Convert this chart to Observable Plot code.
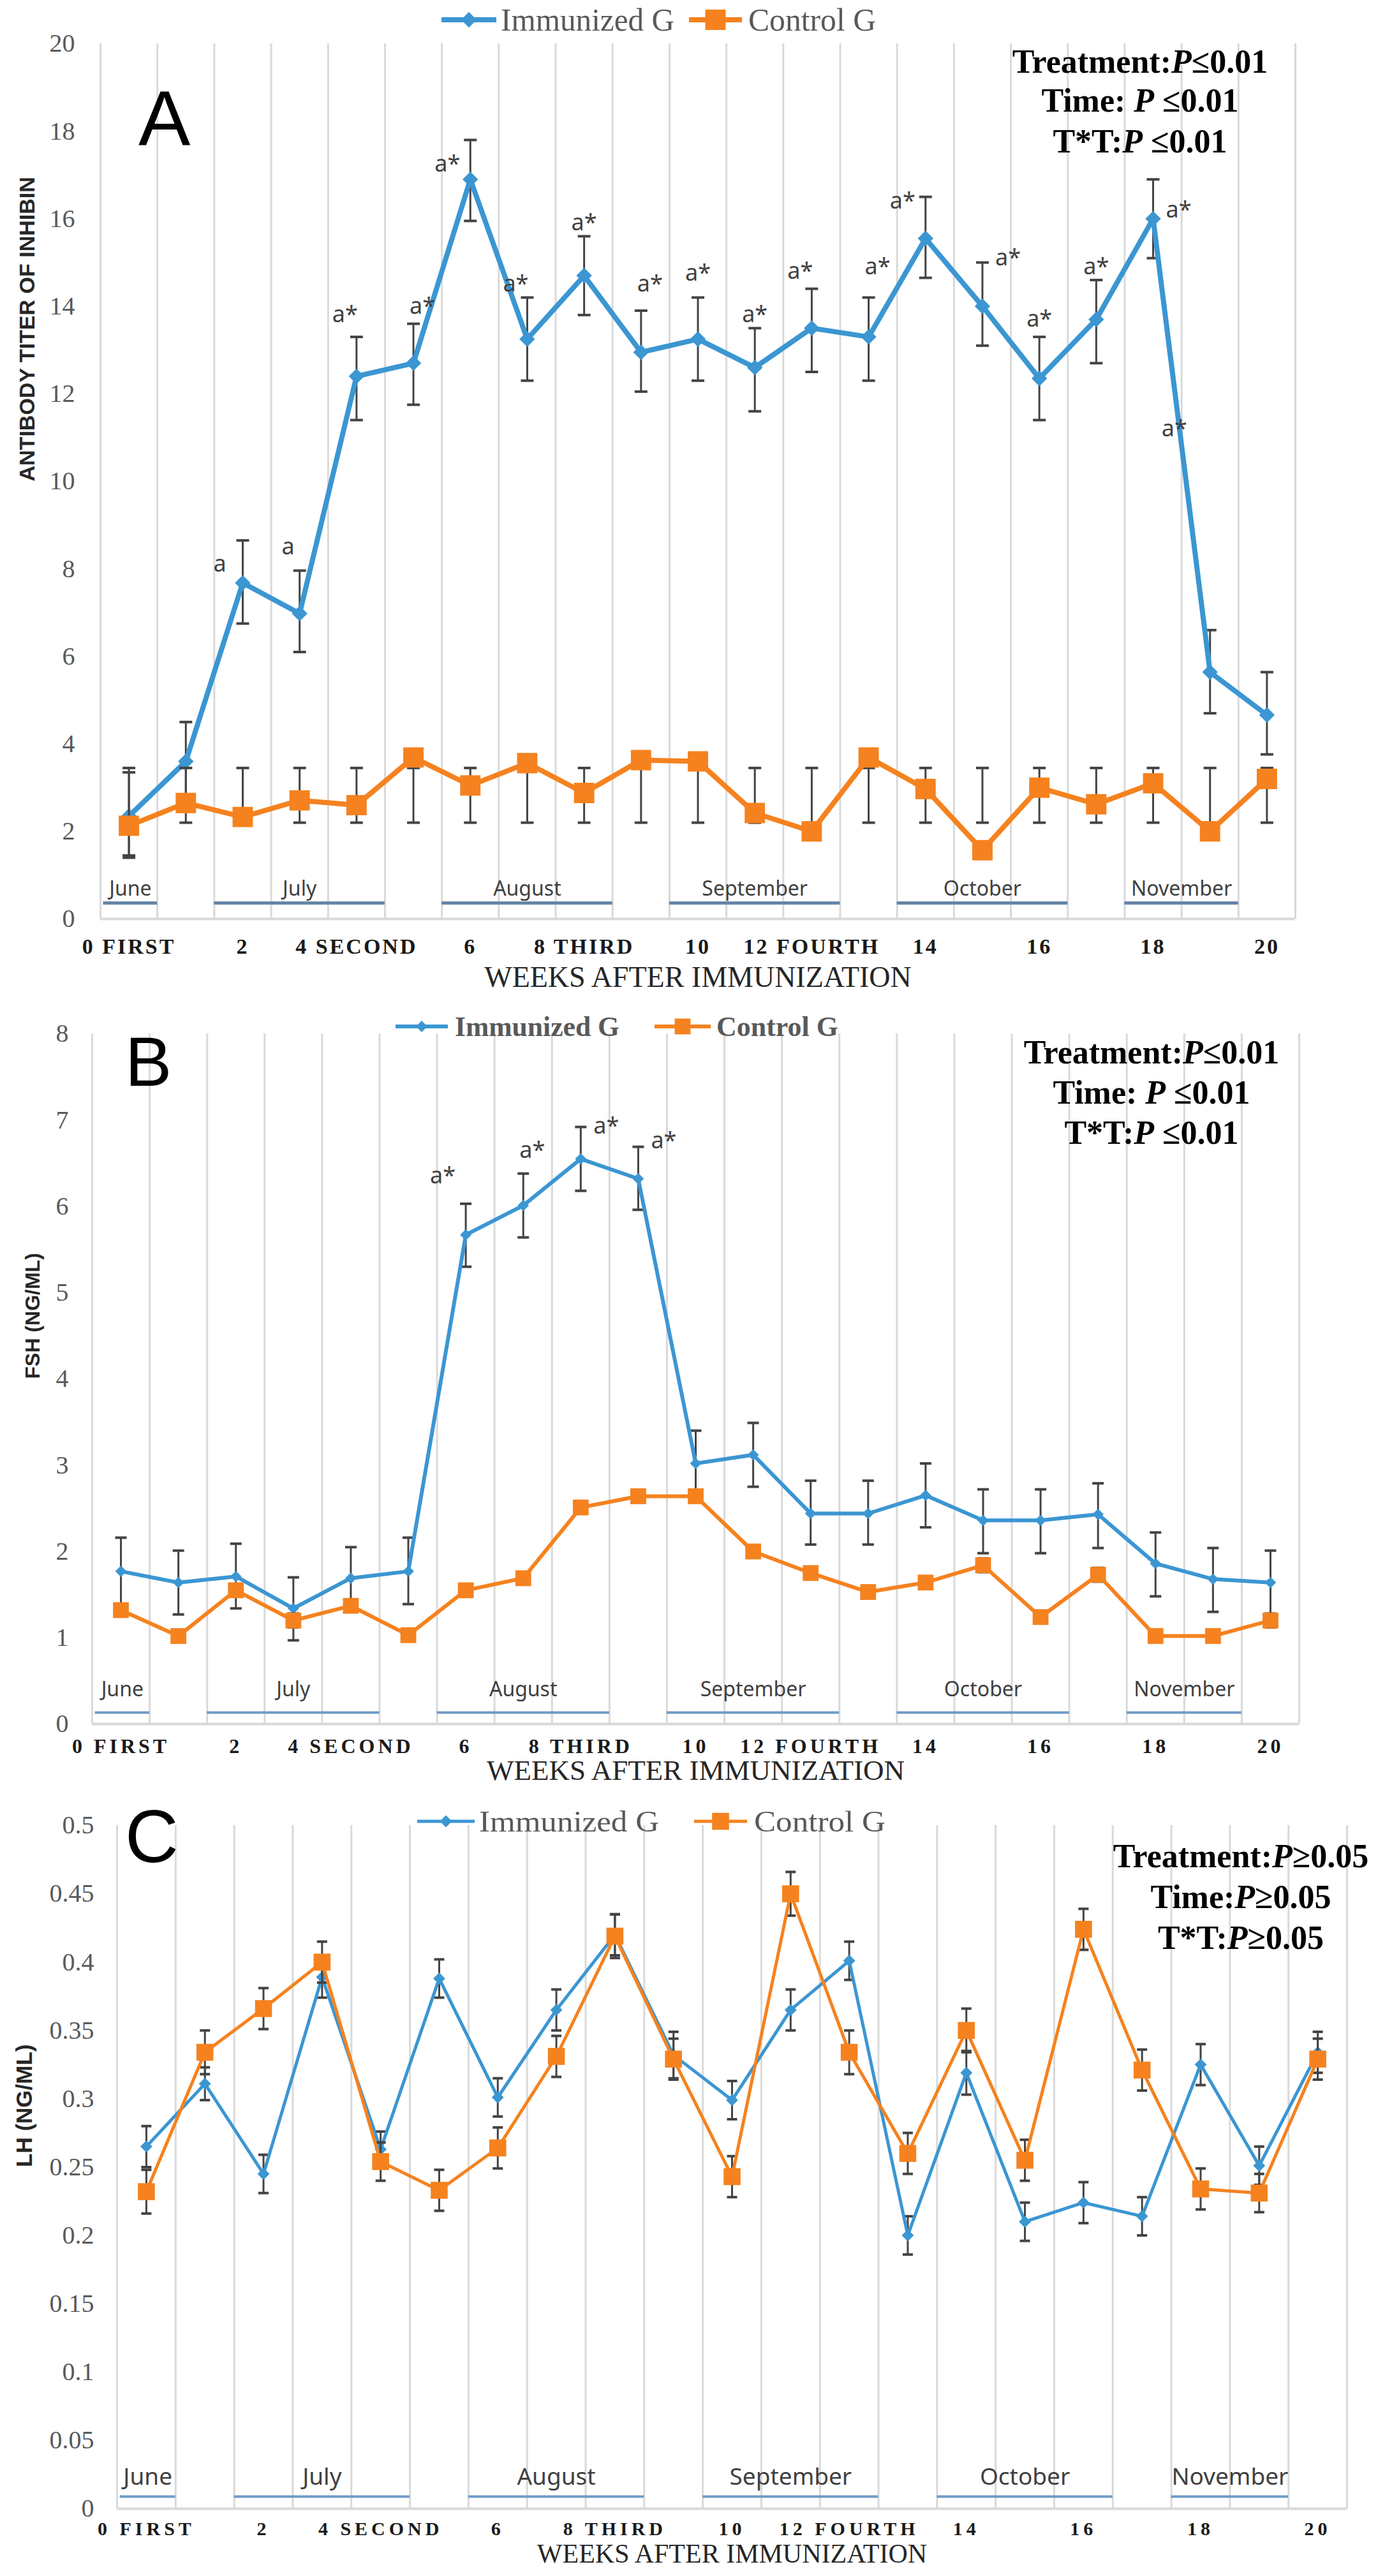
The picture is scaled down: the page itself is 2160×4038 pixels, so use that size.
<!DOCTYPE html>
<html>
<head>
<meta charset="utf-8">
<script src="https://cdn.jsdelivr.net/npm/d3@7"></script>
<script src="https://cdn.jsdelivr.net/npm/@observablehq/plot@0.6"></script>
<style>
html, body { margin: 0; padding: 0; background: #fff; overflow: hidden; }
#root svg { display: block; }
</style>
</head>
<body>
<div id="root"></div>
<script>
// ---------------- DATA ----------------
const weeks = [0,1,2,3,4,5,6,7,8,9,10,11,12,13,14,15,16,17,18,19,20];
const xLabels = ["0 FIRST","","2","","4 SECOND","","6","","8 THIRD","","10","","12 FOURTH","","14","","16","","18","","20"];
const seriesNames = ["Immunized G", "Control G"];
const monthNames = ["June","July","August","September","October","November"];
const monthStart = [-0.45, 1.5, 5.5, 9.5, 13.5, 17.5];
const monthEnd   = [0.5, 4.5, 8.5, 12.5, 16.5, 19.5];

// Panel A: antibody titer of inhibin
const yTicksA = [0,2,4,6,8,10,12,14,16,18,20];
const immA    = [2.35,3.6,7.68,6.98,12.4,12.7,16.9,13.25,14.7,12.95,13.25,12.6,13.5,13.3,15.55,14.0,12.35,13.7,16.0,5.64,4.66];
const immA_lo = [1.4,2.6,6.75,6.1,11.4,11.75,15.95,12.3,13.8,12.05,12.3,11.6,12.5,12.3,14.65,13.1,11.4,12.7,15.1,4.7,3.76];
const immA_hi = [3.35,4.5,8.65,7.96,13.3,13.6,17.8,14.2,15.6,13.9,14.2,13.5,14.4,14.2,16.5,15.0,13.3,14.6,16.9,6.6,5.64];
const ctlA    = [2.13,2.65,2.33,2.71,2.6,3.69,3.05,3.56,2.88,3.63,3.6,2.42,2.0,3.69,2.97,1.57,3.0,2.62,3.1,2.0,3.2];
const ctlA_lo = [1.45,2.2,2.2,2.2,2.2,2.2,2.2,2.2,2.2,2.2,2.2,2.2,2.2,2.2,2.2,2.2,2.2,2.2,2.2,2.2,2.2];
const ctlA_hi = [3.45,3.45,3.45,3.45,3.45,3.45,3.45,3.45,3.45,3.45,3.45,3.45,3.45,3.45,3.45,3.45,3.45,3.45,3.45,3.45,3.45];
const annA_i    = [2,3,4,5,6,7,8,9,10,11,12,13,14,15,16,17,18,19];
const annA_y    = [8.1,8.5,13.8,14.0,17.25,14.5,15.9,14.5,14.75,13.8,14.8,14.9,16.4,15.1,13.7,14.9,16.2,11.2];
const annA_text = ["a","a","a*","a*","a*","a*","a*","a*","a*","a*","a*","a*","a*","a*","a*","a*","a*","a*"];
const annA_side = ["FL","L","L","R","FL","L","C","R","C","C","L","R","FL","FR","C","C","FR","FFL"];
const statsA = [["Treatment:","P","≤0.01"],["Time: ","P"," ≤0.01"],["T*T:","P"," ≤0.01"]];

// Panel B: FSH
const yTicksB = [0,1,2,3,4,5,6,7,8];
const immB    = [1.77,1.64,1.71,1.34,1.69,1.77,5.67,6.01,6.55,6.32,3.02,3.12,2.44,2.44,2.65,2.36,2.36,2.43,1.86,1.68,1.64];
const immB_lo = [1.39,1.27,1.34,0.97,1.32,1.39,5.3,5.64,6.18,5.96,2.65,2.75,2.08,2.08,2.28,1.98,1.98,2.04,1.48,1.3,1.27];
const immB_hi = [2.16,2.01,2.09,1.7,2.05,2.16,6.03,6.38,6.92,6.69,3.4,3.49,2.82,2.82,3.02,2.72,2.72,2.79,2.22,2.04,2.01];
const ctlB     = [1.32,1.02,1.55,1.2,1.37,1.03,1.55,1.69,2.51,2.64,2.64,2.0,1.75,1.53,1.64,1.84,1.24,1.73,1.02,1.02,1.2];
const ctlB_err = [0.07,0.05,0.06,0.08,0.07,0.06,0.06,0.06,0.07,0.06,0.07,0.06,0.06,0.06,0.07,0.08,0.06,0.08,0.06,0.06,0.08];
const annB_i    = [6,7,8,9];
const annB_y    = [6.35,6.65,6.93,6.76];
const annB_text = ["a*","a*","a*","a*"];
const annB_side = ["FL","R","FR","FR"];
const statsB = [["Treatment:","P","≤0.01"],["Time: ","P"," ≤0.01"],["T*T:","P"," ≤0.01"]];

// Panel C: LH
const yTicksC = [0,0.05,0.1,0.15,0.2,0.25,0.3,0.35,0.4,0.45,0.5];
const immC     = [0.265,0.311,0.245,0.389,0.263,0.388,0.301,0.365,0.42,0.332,0.299,0.365,0.401,0.2,0.319,0.21,0.224,0.214,0.325,0.251,0.334];
const immC_err = [0.015,0.012,0.014,0.015,0.013,0.014,0.014,0.015,0.015,0.017,0.014,0.015,0.014,0.014,0.016,0.014,0.015,0.014,0.015,0.014,0.015];
const ctlC     = [0.232,0.334,0.366,0.4,0.254,0.233,0.264,0.331,0.419,0.329,0.243,0.45,0.334,0.26,0.35,0.255,0.424,0.321,0.234,0.231,0.329];
const ctlC_err = [0.016,0.016,0.015,0.015,0.014,0.015,0.015,0.015,0.016,0.015,0.015,0.016,0.016,0.015,0.016,0.015,0.015,0.015,0.015,0.014,0.015];
const statsC = [["Treatment:","P","≥0.05"],["Time:","P","≥0.05"],["T*T:","P","≥0.05"]];

// ---------------- STYLE ----------------
const BLUE = "#3b96d2", ORANGE = "#f5821f", BAR = "#434343";
const SERIF = "Liberation Serif, Times New Roman, serif";
const SANS = "Noto Sans, Open Sans, sans-serif";
const ARIAL = "Liberation Sans, Arial, sans-serif";
const sideDx = {FFL: -56, FL: -36, L: -18, C: 0, R: 14, FR: 40};

const months = monthNames.map((name, k) => ({name, start: monthStart[k], end: monthEnd[k]}));
const boundaries = weeks.map(i => i - 0.5).concat([weeks[weeks.length - 1] + 0.5]);
const rowsB = (values, lo, hi) => values.map((v, k) => ({i: weeks[k], v, lo: lo[k], hi: hi[k]}));
const rowsE = (values, err) => values.map((v, k) => ({i: weeks[k], v, lo: v - err[k], hi: v + err[k]}));
const annRows = (is, ys, ts, ss) => is.map((i, k) => ({i, y: ys[k], t: ts[k], side: ss[k]}));

const capSymbol = { draw(ctx, size) { const r = Math.sqrt(size / Math.PI); ctx.moveTo(-r, 0); ctx.lineTo(r, 0); } };

function panel(cfg) {
  const marks = [
    Plot.ruleX(boundaries, {x: d => d, stroke: "#d9d9d9", strokeWidth: 3}),
    Plot.ruleY([0], {stroke: "#d9d9d9", strokeWidth: 4}),
    Plot.ruleY(months, {x1: "start", x2: "end", y: 0, dy: cfg.monthLineDy, stroke: cfg.monthColor, strokeWidth: cfg.monthLineW}),
    Plot.text(months, {x: d => (d.start + d.end) / 2, y: 0, dy: cfg.monthTextDy, text: "name", fontFamily: SANS, fontSize: cfg.monthFont, fill: "#404040"}),
    Plot.axisY({ticks: cfg.yTicks, tickFormat: d3.format("~g"), tickSize: 0, tickPadding: cfg.yPad, fontSize: cfg.yFont, fontFamily: SERIF, fill: "#595959", label: null}),
    Plot.axisX({ticks: weeks, tickFormat: i => xLabels[i], tickSize: 0, tickPadding: cfg.xPad, fontSize: cfg.xFont, fontWeight: "bold", fontFamily: SERIF, fill: "#1a1a1a", label: null}),
    Plot.text([cfg.yTitle], {text: d => d, frameAnchor: "left", dx: cfg.yTitleDx, rotate: -90, fontFamily: ARIAL, fontWeight: "bold", fontSize: cfg.yTitleSize, fill: "#262626", ariaLabel: "ytitle"}),
    Plot.text(["WEEKS AFTER IMMUNIZATION"], {text: d => d, frameAnchor: "bottom", dy: cfg.weeksDy, fontFamily: SERIF, fontSize: cfg.weeksFont, fill: "#262626", ariaLabel: "weeks"})
  ];
  for (const s of [{rows: cfg.imm, color: BLUE, symbol: "diamond2", r: cfg.dR}, {rows: cfg.ctl, color: ORANGE, symbol: "square", r: cfg.sR}]) {
    marks.push(
      Plot.ruleX(s.rows, {x: "i", y1: "lo", y2: "hi", stroke: BAR, strokeWidth: 3}),
      Plot.dot(s.rows, {x: "i", y: "lo", symbol: capSymbol, r: cfg.capR, fill: "none", stroke: BAR, strokeWidth: 4}),
      Plot.dot(s.rows, {x: "i", y: "hi", symbol: capSymbol, r: cfg.capR, fill: "none", stroke: BAR, strokeWidth: 4}),
      Plot.line(s.rows, {x: "i", y: "v", stroke: s.color, strokeWidth: cfg.lw, strokeLinejoin: "round"}),
      Plot.dot(s.rows, {x: "i", y: "v", symbol: s.symbol, r: s.r, fill: s.color, stroke: "none"})
    );
  }
  for (const side of Object.keys(sideDx)) {
    const sub = cfg.ann.filter(d => d.side === side);
    if (sub.length) marks.push(Plot.text(sub, {x: "i", y: "y", text: "t", dx: sideDx[side], fontFamily: SANS, fontSize: 36, fill: "#404040"}));
  }
  const svg = Plot.plot({
    width: 2160, height: cfg.height,
    marginTop: cfg.mt, marginBottom: cfg.mb, marginLeft: cfg.ml, marginRight: cfg.mr,
    x: {type: "linear", domain: [-0.5, 20.5]},
    y: {type: "linear", domain: [cfg.yTicks[0], cfg.yTicks[cfg.yTicks.length - 1]]},
    style: {fontFamily: SERIF, fontSize: "40px", background: "#fff", overflow: "visible", color: "#262626"},
    marks
  });
  const s = d3.select(svg);
  s.selectAll('g[aria-label="x-axis tick label"] text').style("letter-spacing", cfg.xLS + "px");
  s.selectAll('g[aria-label="ytitle"] text').style("letter-spacing", cfg.yTitleLS + "px");
  s.selectAll('g[aria-label="weeks"] text').attr("textLength", cfg.weeksLen).attr("lengthAdjust", "spacingAndGlyphs");

  // panel letter
  s.append("text").attr("x", cfg.letter.x).attr("y", cfg.letter.y).attr("text-anchor", "start")
    .attr("font-family", ARIAL).attr("font-size", cfg.letter.size).attr("fill", "#000").text(cfg.letter.t);

  // legend
  const L = cfg.legend, g = s.append("g").attr("font-family", SERIF).attr("fill", "#595959")
    .attr("text-anchor", "start").attr("font-size", L.font).attr("font-weight", L.bold ? "bold" : "normal");
  const items = [
    {name: seriesNames[0], color: BLUE, sym: d3.symbolDiamond2, r: cfg.dR, x1: L.b[0], x2: L.b[1], tx: L.b[2], tl: L.b[3]},
    {name: seriesNames[1], color: ORANGE, sym: d3.symbolSquare, r: cfg.sR, x1: L.o[0], x2: L.o[1], tx: L.o[2], tl: L.o[3]}
  ];
  for (const it of items) {
    g.append("line").attr("x1", it.x1).attr("x2", it.x2).attr("y1", L.y).attr("y2", L.y)
      .attr("stroke", it.color).attr("stroke-width", cfg.lw);
    g.append("path").attr("transform", `translate(${(it.x1 + it.x2) / 2},${L.y})`)
      .attr("d", d3.symbol(it.sym, Math.PI * it.r * it.r)()).attr("fill", it.color);
    g.append("text").attr("x", it.tx).attr("y", L.y + L.base).text(it.name)
      .attr("textLength", it.tl).attr("lengthAdjust", "spacingAndGlyphs");
  }

  // statistics
  const S = cfg.stats;
  cfg.statsLines.forEach((parts, k) => {
    const t = s.append("text").attr("x", S.x).attr("y", S.y[k]).attr("text-anchor", "middle")
      .attr("font-family", SERIF).attr("font-weight", "bold").attr("font-size", S.font).attr("fill", "#000");
    t.append("tspan").text(parts[0]);
    t.append("tspan").attr("font-style", "italic").text(parts[1]);
    t.append("tspan").text(parts[2]);
  });
  return svg;
}

const root = document.getElementById("root");

root.appendChild(panel({
  height: 1580, mt: 68, mb: 140, ml: 157, mr: 130,
  yTicks: yTicksA, yPad: 40, yFont: 40, xPad: 30, xFont: 34, xLS: 3,
  monthLineDy: -25, monthTextDy: -47, monthFont: 32, monthLineW: 5, monthColor: "#6485a6",
  weeksDy: 106, weeksLen: 607, weeksFont: 46,
  yTitle: "ANTIBODY TITER OF INHIBIN", yTitleDx: -114, yTitleSize: 34, yTitleLS: 5,
  imm: rowsB(immA, immA_lo, immA_hi), ctl: rowsB(ctlA, ctlA_lo, ctlA_hi),
  ann: annRows(annA_i, annA_y, annA_text, annA_side),
  lw: 8, dR: 11, sR: 18, capR: 10,
  letter: {t: "A", x: 217, y: 228, size: 122},
  legend: {y: 31, base: 17, font: 50, bold: false, b: [692, 778, 785, 272], o: [1080, 1163, 1173, 200]},
  stats: {x: 1787, y: [114, 175, 239], font: 52}, statsLines: statsA
}));

root.appendChild(panel({
  height: 1240, mt: 40, mb: 118, ml: 144, mr: 124,
  yTicks: yTicksB, yPad: 37, yFont: 40, xPad: 23, xFont: 32, xLS: 5,
  monthLineDy: -18, monthTextDy: -54, monthFont: 32, monthLineW: 4, monthColor: "#6f9cc8",
  weeksDy: 87, weeksLen: 613, weeksFont: 45,
  yTitle: "FSH (NG/ML)", yTitleDx: -93, yTitleSize: 32, yTitleLS: 0,
  imm: rowsB(immB, immB_lo, immB_hi), ctl: rowsE(ctlB, ctlB_err),
  ann: annRows(annB_i, annB_y, annB_text, annB_side),
  lw: 6, dR: 8, sR: 14, capR: 9,
  letter: {t: "B", x: 196, y: 122, size: 110},
  legend: {y: 29, base: 15, font: 44, bold: true, b: [620, 702, 713, 258], o: [1026, 1114, 1123, 191]},
  stats: {x: 1805, y: [87, 150, 213], font: 52}, statsLines: statsB
}));

root.appendChild(panel({
  height: 1218, mt: 41, mb: 106, ml: 183, mr: 49,
  yTicks: yTicksC, yPad: 36, yFont: 40, xPad: 20, xFont: 30, xLS: 6,
  monthLineDy: -19, monthTextDy: -49, monthFont: 37, monthLineW: 4, monthColor: "#6f9cc8",
  weeksDy: 84, weeksLen: 624, weeksFont: 42,
  yTitle: "LH (NG/ML)", yTitleDx: -145, yTitleSize: 35, yTitleLS: 0,
  imm: rowsE(immC, immC_err), ctl: rowsE(ctlC, ctlC_err),
  ann: [],
  lw: 5, dR: 8.5, sR: 15, capR: 8,
  letter: {t: "C", x: 196, y: 99, size: 116},
  legend: {y: 35, base: 16, font: 46, bold: false, b: [654, 744, 751, 282], o: [1088, 1171, 1182, 206]},
  stats: {x: 1945, y: [107, 171, 235], font: 52}, statsLines: statsC
}));
</script>
</body>
</html>
